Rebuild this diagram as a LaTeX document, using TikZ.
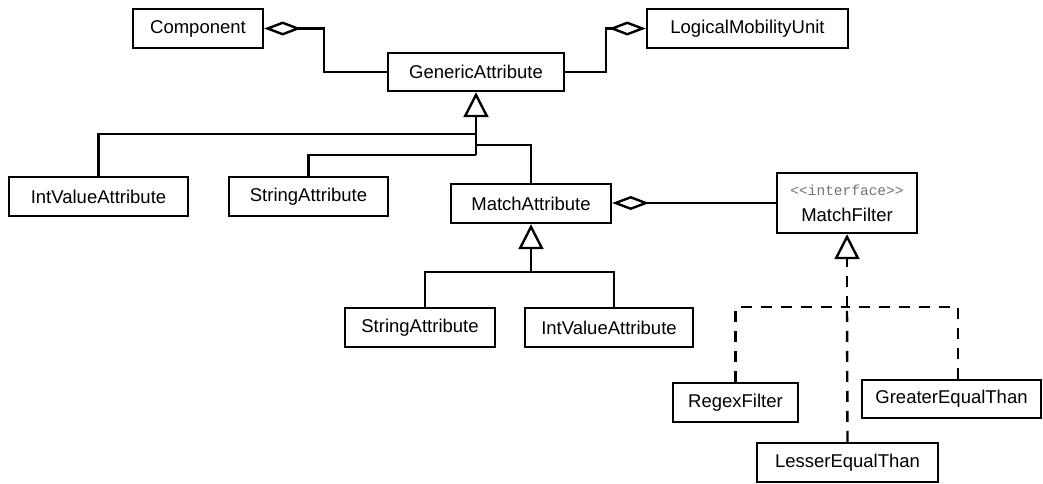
\documentclass[tikz,border=0pt]{standalone}
\usepackage{fontspec}
\setmainfont{Liberation Sans}
\newfontfamily\stereofont{Liberation Mono}
\usetikzlibrary{arrows.meta,calc}
\begin{document}
\begin{tikzpicture}[x=1pt,y=-1pt,
  cls/.style={draw,line width=2.4pt,inner sep=0pt,minimum height=39pt,
    font=\fontsize{18.5}{22}\selectfont,align=center},
  conn/.style={line width=2.4pt},
  aggr/.style={conn,-{Diamond[open,length=37pt,width=14pt]}},
  gen/.style={conn,-{Triangle[open,length=25pt,width=25pt]}},
  real/.style={conn,dash pattern=on 11pt off 9pt}
]
\useasboundingbox (0,0) rectangle (1043,483);
% nodes
\node[cls,minimum width=130pt] (comp) at (198,28.5) {Component};
\node[cls,minimum width=201pt] (lmu) at (747.5,28.5) {LogicalMobilityUnit};
\node[cls,minimum width=176pt,minimum height=38pt] (ga) at (476,72) {GenericAttribute};
\node[cls,minimum width=179pt] (iva1) at (98.5,196.5) {IntValueAttribute};
\node[cls,minimum width=159pt] (sa1) at (308.5,196.5) {StringAttribute};
\node[cls,minimum width=160pt] (ma) at (531,203.5) {MatchAttribute};
\node[cls,minimum width=140pt,minimum height=60pt] (mf) at (847,203)
  {\textcolor{black!55}{\stereofont\fontsize{14.5}{16}\selectfont <<interface>>}\\[4pt]MatchFilter};
\node[cls,minimum width=150pt] (sa2) at (420,327.5) {StringAttribute};
\node[cls,minimum width=168pt] (iva2) at (609,327.5) {IntValueAttribute};
\node[cls,minimum width=125pt] (rf) at (735.5,402.5) {RegexFilter};
\node[cls,minimum width=179pt,minimum height=38pt] (ge) at (951.5,399) {GreaterEqualThan};
\node[cls,minimum width=181pt] (le) at (847.5,462.5) {LesserEqualThan};
% junctions
\coordinate (j1) at (476,155);
\coordinate (j2) at (531,272);
\coordinate (j3) at (847,307);
% aggregations
\draw[aggr] (ga.west) -- ++(-63,0) |- (comp.east);
\draw[aggr] (ga.east) -- ++(41,0) |- (lmu.west);
\draw[aggr] (mf.west) -- (mf.west -| ma.east);
% generalization of GenericAttribute
\draw[gen] (j1) -- (ga.south);
\draw[conn] (iva1.north) |- (ga.south |- 0,134);
\draw[conn] (sa1.north) |- (j1);
\draw[conn] (ma.north) |- (ga.south |- 0,145);
% generalization of MatchAttribute
\draw[gen] (j2) -- (ma.south);
\draw[conn] ($(sa2.north)+(5,0)$) |- (j2);
\draw[conn] ($(iva2.north)+(5,0)$) |- (j2);
% realization of MatchFilter
\draw[real,-{Triangle[open,length=25pt,width=25pt]}] (j3) -- (mf.south);
\draw[real] (rf.north) |- (j3);
\draw[real] ($(ge.north)+(6.5,0)$) |- (j3);
\draw[real] (le.north) -- (j3);
\end{tikzpicture}
\end{document}
